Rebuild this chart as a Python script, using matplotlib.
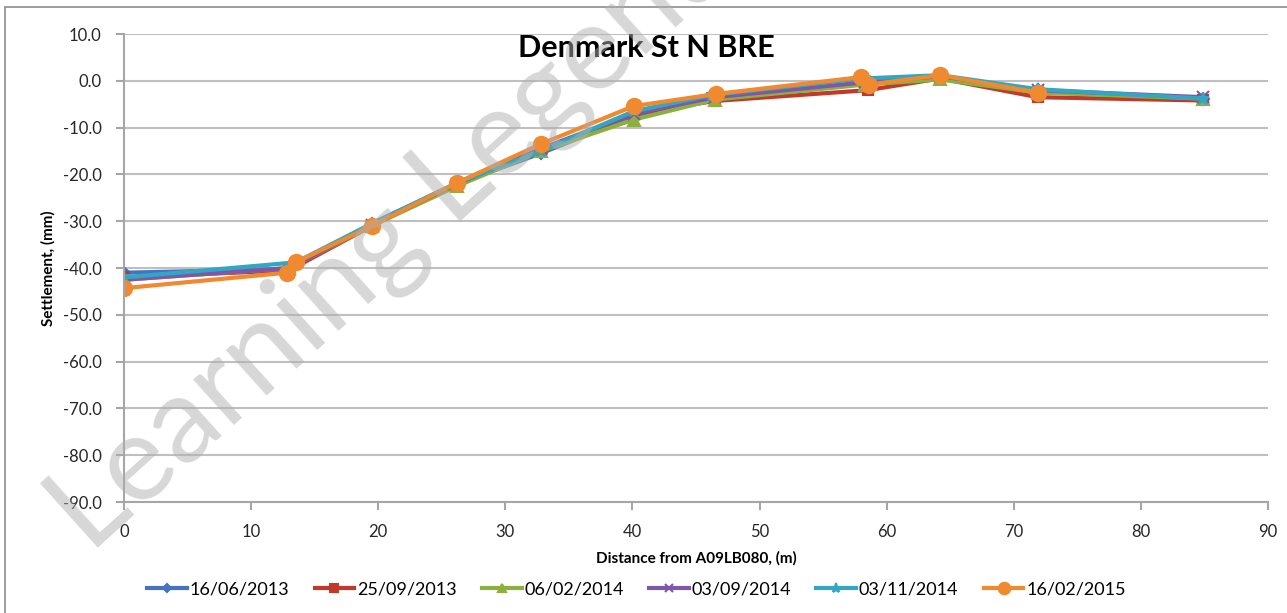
import matplotlib.pyplot as plt
import matplotlib.patches as patches

plt.rcParams['font.family'] = ['Lato', 'DejaVu Sans']

# survey dates and readings (distance in m, settlement in mm)
labels = ['16/06/2013', '25/09/2013', '06/02/2014', '03/09/2014', '03/11/2014', '16/02/2015']

x_2013a = [0, 13.0, 19.5, 26.2, 32.8, 40.1, 46.5, 58.3, 64.2, 71.9, 84.9]
y_2013a = [-41.0, -40.2, -30.5, -22.0, -15.5, -7.5, -4.0, -0.5, 0.8, -2.0, -3.8]

x_2013b = [0, 13.0, 19.5, 26.2, 32.8, 40.1, 46.5, 58.5, 64.2, 71.9, 84.9]
y_2013b = [-42.0, -40.5, -31.0, -22.0, -15.0, -7.0, -4.3, -2.0, 0.5, -3.5, -4.2]

x_2014a = [0, 13.0, 19.5, 26.2, 32.8, 40.1, 46.5, 58.3, 64.2, 71.9, 84.9]
y_2014a = [-42.5, -40.0, -31.0, -22.5, -15.0, -8.3, -4.0, -0.8, 0.3, -2.5, -3.8]

x_2014b = [0, 13.0, 19.5, 26.2, 32.8, 40.1, 46.5, 58.3, 64.2, 71.9, 84.9]
y_2014b = [-42.5, -40.0, -30.8, -22.0, -14.5, -7.0, -3.5, -0.3, 1.0, -2.0, -3.5]

x_2014c = [0, 13.5, 19.5, 26.2, 32.8, 40.1, 46.3, 58.1, 64.2, 71.9, 84.9]
y_2014c = [-42.0, -38.8, -30.5, -21.8, -15.0, -6.5, -3.0, 0.5, 1.2, -1.8, -3.8]

x_2015 = [0, 12.8, 13.5, 19.5, 26.2, 32.8, 40.1, 46.6, 58.0, 58.6, 64.2, 71.9]
y_2015 = [-44.3, -41.0, -38.8, -31.0, -21.8, -13.5, -5.4, -2.8, 0.8, -0.8, 1.2, -2.5]

series = [(x_2013a, y_2013a), (x_2013b, y_2013b), (x_2014a, y_2014a),
          (x_2014b, y_2014b), (x_2014c, y_2014c), (x_2015, y_2015)]
colors = ['#4472C4', '#C0392B', '#8CB040', '#7E57A8', '#31A7C4', '#F08A30']
markers = ['D', 's', '^', 'x', '*', 'o']
msizes = [6, 7, 8, 8, 9, 11]

fig = plt.figure(figsize=(12.87, 6.13), dpi=100)
ax = fig.add_axes([0.0963, 0.181, 0.8889, 0.7635])

for (xs, ys), lab, c, m, ms in zip(series, labels, colors, markers, msizes):
    ax.plot(xs, ys, color=c, lw=3, marker=m, markersize=ms, label=lab,
            markeredgecolor=c, markeredgewidth=1.5)

ax.set_xlim(0, 90)
ax.set_ylim(-90, 10)
ax.set_xticks(range(0, 91, 10))
ax.set_yticks(range(-90, 11, 10))
ax.set_yticklabels([f'{v:.1f}' for v in range(-90, 11, 10)])
ax.grid(axis='y', color='#bfbfbf', lw=1.5)
ax.set_axisbelow(True)
for s in ['top', 'right']:
    ax.spines[s].set_visible(False)
for s in ['left', 'bottom']:
    ax.spines[s].set_color('#a6a6a6')
    ax.spines[s].set_linewidth(1.5)
ax.tick_params(axis='both', labelsize=12, colors='#a6a6a6', labelcolor='#262626', length=6, width=1.5)
ax.tick_params(axis='x', pad=10)
ax.tick_params(axis='y', pad=10)

ax.set_xlabel('Distance from A09LB080, (m)', fontsize=11, fontweight='bold', labelpad=8)
ax.set_ylabel('Settlement, (mm)', fontsize=11, fontweight='bold', labelpad=5)
ax.text(0.457, 0.97, 'Denmark St N BRE', transform=ax.transAxes, ha='center', va='center',
        fontsize=22, fontweight='bold', color='black')

ax.legend(loc='upper center', bbox_to_anchor=(0.448, -0.135), ncol=6, frameon=False,
          fontsize=13, handlelength=2.2, columnspacing=1.4, handletextpad=0.15,
          markerscale=0.75)

# outer chart border
fig.patches.append(patches.Rectangle((5 / 1287, -0.01), 1.0, 1 - 7 / 613 + 0.01,
                                     transform=fig.transFigure, fill=False,
                                     edgecolor='#8c8c8c', lw=1.2))

# watermark
fig.text(90 / 1287, 1 - 555 / 613, 'Learning Legend', rotation=42, fontsize=87,
         color='#b0b0b0', alpha=0.5, ha='left', va='baseline', rotation_mode='anchor')

fig.savefig('out.png', dpi=100)
